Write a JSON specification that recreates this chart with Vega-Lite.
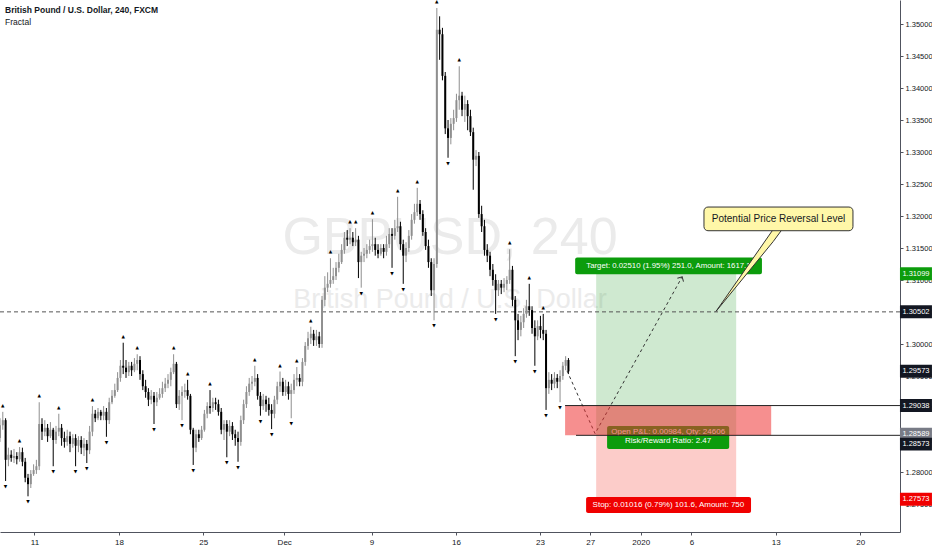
{
"$schema": "https://vega.github.io/schema/vega-lite/v6.json",
"width": 900, "height": 532,
"autosize": {"type": "none"},
"padding": {"left": 0, "top": 0, "right": 32, "bottom": 18},
"background": "#ffffff",
"config": {
 "view": {"stroke": null},
 "font": "Liberation Sans",
 "axisX": {"grid": false, "domainColor": "#50535e", "tickColor": "#50535e", "tickSize": 3, "labelFontSize": 8, "labelColor": "#131722", "labelPadding": 3, "labelFont": "Liberation Sans", "labelOverlap": false},
 "axisY": {"grid": false, "domainColor": "#50535e", "tickColor": "#50535e", "tickSize": 3, "labelFontSize": 7.5, "labelColor": "#131722", "labelPadding": 2, "labelFont": "Liberation Sans", "labelOverlap": false}
},
"datasets": {
 "candles": [
  {"i":0,"o":1.2853,"h":1.2884,"l":1.2847,"c":1.2873},
  {"i":1,"o":1.2873,"h":1.2894,"l":1.2866,"c":1.2881},
  {"i":2,"o":1.2881,"h":1.2884,"l":1.2786,"c":1.2819},
  {"i":3,"o":1.2819,"h":1.2838,"l":1.2809,"c":1.2827},
  {"i":4,"o":1.2827,"h":1.2834,"l":1.2816,"c":1.2822},
  {"i":5,"o":1.2822,"h":1.2836,"l":1.2814,"c":1.2825},
  {"i":6,"o":1.2825,"h":1.2831,"l":1.2812,"c":1.2820},
  {"i":7,"o":1.2820,"h":1.2839,"l":1.2816,"c":1.2831},
  {"i":8,"o":1.2831,"h":1.2838,"l":1.2809,"c":1.2816},
  {"i":9,"o":1.2816,"h":1.2822,"l":1.2784,"c":1.2791},
  {"i":10,"o":1.2791,"h":1.2797,"l":1.2762,"c":1.2781},
  {"i":11,"o":1.2781,"h":1.2803,"l":1.2775,"c":1.2797},
  {"i":12,"o":1.2797,"h":1.2812,"l":1.2794,"c":1.2803},
  {"i":13,"o":1.2803,"h":1.2819,"l":1.2797,"c":1.2809},
  {"i":14,"o":1.2809,"h":1.2909,"l":1.2803,"c":1.2875},
  {"i":15,"o":1.2875,"h":1.2884,"l":1.2850,"c":1.2863},
  {"i":16,"o":1.2863,"h":1.2881,"l":1.2856,"c":1.2869},
  {"i":17,"o":1.2869,"h":1.2875,"l":1.2847,"c":1.2856},
  {"i":18,"o":1.2856,"h":1.2878,"l":1.2853,"c":1.2866},
  {"i":19,"o":1.2866,"h":1.2869,"l":1.2809,"c":1.2850},
  {"i":20,"o":1.2850,"h":1.2872,"l":1.2844,"c":1.2863},
  {"i":21,"o":1.2863,"h":1.2891,"l":1.2856,"c":1.2869},
  {"i":22,"o":1.2869,"h":1.2875,"l":1.2841,"c":1.2853},
  {"i":23,"o":1.2853,"h":1.2863,"l":1.2838,"c":1.2847},
  {"i":24,"o":1.2847,"h":1.2866,"l":1.2841,"c":1.2856},
  {"i":25,"o":1.2856,"h":1.2863,"l":1.2831,"c":1.2844},
  {"i":26,"o":1.2844,"h":1.2859,"l":1.2838,"c":1.2853},
  {"i":27,"o":1.2853,"h":1.2859,"l":1.2809,"c":1.2841},
  {"i":28,"o":1.2841,"h":1.2856,"l":1.2831,"c":1.2850},
  {"i":29,"o":1.2850,"h":1.2856,"l":1.2828,"c":1.2838},
  {"i":30,"o":1.2838,"h":1.2853,"l":1.2825,"c":1.2844},
  {"i":31,"o":1.2844,"h":1.2850,"l":1.2814,"c":1.2834},
  {"i":32,"o":1.2834,"h":1.2872,"l":1.2828,"c":1.2863},
  {"i":33,"o":1.2863,"h":1.2903,"l":1.2856,"c":1.2891},
  {"i":34,"o":1.2891,"h":1.2897,"l":1.2878,"c":1.2884},
  {"i":35,"o":1.2884,"h":1.2900,"l":1.2881,"c":1.2894},
  {"i":36,"o":1.2894,"h":1.2897,"l":1.2881,"c":1.2888},
  {"i":37,"o":1.2888,"h":1.2903,"l":1.2881,"c":1.2894},
  {"i":38,"o":1.2894,"h":1.2900,"l":1.2855,"c":1.2881},
  {"i":39,"o":1.2881,"h":1.2916,"l":1.2875,"c":1.2909},
  {"i":40,"o":1.2909,"h":1.2928,"l":1.2906,"c":1.2919},
  {"i":41,"o":1.2919,"h":1.2938,"l":1.2916,"c":1.2928},
  {"i":42,"o":1.2928,"h":1.2956,"l":1.2925,"c":1.2947},
  {"i":43,"o":1.2947,"h":1.2975,"l":1.2941,"c":1.2966},
  {"i":44,"o":1.2966,"h":1.3002,"l":1.2953,"c":1.2963},
  {"i":45,"o":1.2963,"h":1.2975,"l":1.2947,"c":1.2956},
  {"i":46,"o":1.2956,"h":1.2972,"l":1.2950,"c":1.2966},
  {"i":47,"o":1.2966,"h":1.2972,"l":1.2950,"c":1.2959},
  {"i":48,"o":1.2959,"h":1.2978,"l":1.2956,"c":1.2969},
  {"i":49,"o":1.2969,"h":1.2984,"l":1.2959,"c":1.2975},
  {"i":50,"o":1.2975,"h":1.2981,"l":1.2944,"c":1.2953},
  {"i":51,"o":1.2953,"h":1.2959,"l":1.2928,"c":1.2934},
  {"i":52,"o":1.2934,"h":1.2944,"l":1.2916,"c":1.2925},
  {"i":53,"o":1.2925,"h":1.2931,"l":1.2903,"c":1.2913},
  {"i":54,"o":1.2913,"h":1.2928,"l":1.2906,"c":1.2919},
  {"i":55,"o":1.2919,"h":1.2925,"l":1.2875,"c":1.2909},
  {"i":56,"o":1.2909,"h":1.2925,"l":1.2903,"c":1.2916},
  {"i":57,"o":1.2916,"h":1.2931,"l":1.2913,"c":1.2922},
  {"i":58,"o":1.2922,"h":1.2941,"l":1.2916,"c":1.2931},
  {"i":59,"o":1.2931,"h":1.2947,"l":1.2925,"c":1.2938},
  {"i":60,"o":1.2938,"h":1.2953,"l":1.2931,"c":1.2944},
  {"i":61,"o":1.2944,"h":1.2963,"l":1.2934,"c":1.2956},
  {"i":62,"o":1.2956,"h":1.2984,"l":1.2953,"c":1.2969},
  {"i":63,"o":1.2969,"h":1.2972,"l":1.2900,"c":1.2906},
  {"i":64,"o":1.2906,"h":1.2928,"l":1.2897,"c":1.2919},
  {"i":65,"o":1.2919,"h":1.2934,"l":1.2881,"c":1.2925},
  {"i":66,"o":1.2925,"h":1.2938,"l":1.2916,"c":1.2928},
  {"i":67,"o":1.2928,"h":1.2944,"l":1.2913,"c":1.2919},
  {"i":68,"o":1.2919,"h":1.2922,"l":1.2859,"c":1.2866},
  {"i":69,"o":1.2866,"h":1.2869,"l":1.2811,"c":1.2838},
  {"i":70,"o":1.2838,"h":1.2866,"l":1.2831,"c":1.2859},
  {"i":71,"o":1.2859,"h":1.2866,"l":1.2847,"c":1.2853},
  {"i":72,"o":1.2853,"h":1.2872,"l":1.2850,"c":1.2866},
  {"i":73,"o":1.2866,"h":1.2897,"l":1.2863,"c":1.2891},
  {"i":74,"o":1.2891,"h":1.2909,"l":1.2884,"c":1.2903},
  {"i":75,"o":1.2903,"h":1.2928,"l":1.2891,"c":1.2900},
  {"i":76,"o":1.2900,"h":1.2916,"l":1.2894,"c":1.2909},
  {"i":77,"o":1.2909,"h":1.2916,"l":1.2897,"c":1.2906},
  {"i":78,"o":1.2906,"h":1.2913,"l":1.2888,"c":1.2894},
  {"i":79,"o":1.2894,"h":1.2900,"l":1.2859,"c":1.2866},
  {"i":80,"o":1.2866,"h":1.2881,"l":1.2850,"c":1.2875},
  {"i":81,"o":1.2875,"h":1.2881,"l":1.2823,"c":1.2863},
  {"i":82,"o":1.2863,"h":1.2881,"l":1.2856,"c":1.2872},
  {"i":83,"o":1.2872,"h":1.2878,"l":1.2850,"c":1.2859},
  {"i":84,"o":1.2859,"h":1.2866,"l":1.2841,"c":1.2853},
  {"i":85,"o":1.2853,"h":1.2863,"l":1.2816,"c":1.2847},
  {"i":86,"o":1.2847,"h":1.2888,"l":1.2841,"c":1.2881},
  {"i":87,"o":1.2881,"h":1.2913,"l":1.2875,"c":1.2906},
  {"i":88,"o":1.2906,"h":1.2934,"l":1.2900,"c":1.2925},
  {"i":89,"o":1.2925,"h":1.2947,"l":1.2919,"c":1.2938},
  {"i":90,"o":1.2938,"h":1.2950,"l":1.2928,"c":1.2941},
  {"i":91,"o":1.2941,"h":1.2966,"l":1.2934,"c":1.2947},
  {"i":92,"o":1.2947,"h":1.2953,"l":1.2913,"c":1.2919},
  {"i":93,"o":1.2919,"h":1.2925,"l":1.2888,"c":1.2903},
  {"i":94,"o":1.2903,"h":1.2922,"l":1.2897,"c":1.2913},
  {"i":95,"o":1.2913,"h":1.2919,"l":1.2894,"c":1.2906},
  {"i":96,"o":1.2906,"h":1.2916,"l":1.2888,"c":1.2897},
  {"i":97,"o":1.2897,"h":1.2906,"l":1.2867,"c":1.2891},
  {"i":98,"o":1.2891,"h":1.2919,"l":1.2884,"c":1.2913},
  {"i":99,"o":1.2913,"h":1.2941,"l":1.2906,"c":1.2934},
  {"i":100,"o":1.2934,"h":1.2957,"l":1.2925,"c":1.2941},
  {"i":101,"o":1.2941,"h":1.2947,"l":1.2919,"c":1.2925},
  {"i":102,"o":1.2925,"h":1.2944,"l":1.2919,"c":1.2934},
  {"i":103,"o":1.2934,"h":1.2941,"l":1.2913,"c":1.2922},
  {"i":104,"o":1.2922,"h":1.2938,"l":1.2884,"c":1.2928},
  {"i":105,"o":1.2928,"h":1.2953,"l":1.2922,"c":1.2944},
  {"i":106,"o":1.2944,"h":1.2964,"l":1.2934,"c":1.2947},
  {"i":107,"o":1.2947,"h":1.2953,"l":1.2934,"c":1.2941},
  {"i":108,"o":1.2941,"h":1.2978,"l":1.2934,"c":1.2972},
  {"i":109,"o":1.2972,"h":1.3003,"l":1.2966,"c":1.2997},
  {"i":110,"o":1.2997,"h":1.3019,"l":1.2991,"c":1.3009},
  {"i":111,"o":1.3009,"h":1.3027,"l":1.3000,"c":1.3016},
  {"i":112,"o":1.3016,"h":1.3022,"l":1.2997,"c":1.3006},
  {"i":113,"o":1.3006,"h":1.3022,"l":1.2997,"c":1.3012},
  {"i":114,"o":1.3012,"h":1.3019,"l":1.2994,"c":1.3000},
  {"i":115,"o":1.3000,"h":1.3075,"l":1.2994,"c":1.3069},
  {"i":116,"o":1.3069,"h":1.3106,"l":1.3059,"c":1.3088},
  {"i":117,"o":1.3088,"h":1.3112,"l":1.3081,"c":1.3094},
  {"i":118,"o":1.3094,"h":1.3134,"l":1.3088,"c":1.3100},
  {"i":119,"o":1.3100,"h":1.3119,"l":1.3094,"c":1.3106},
  {"i":120,"o":1.3106,"h":1.3128,"l":1.3100,"c":1.3119},
  {"i":121,"o":1.3119,"h":1.3141,"l":1.3112,"c":1.3128},
  {"i":122,"o":1.3128,"h":1.3156,"l":1.3125,"c":1.3147},
  {"i":123,"o":1.3147,"h":1.3175,"l":1.3141,"c":1.3166},
  {"i":124,"o":1.3166,"h":1.3178,"l":1.3153,"c":1.3163},
  {"i":125,"o":1.3163,"h":1.3181,"l":1.3156,"c":1.3166},
  {"i":126,"o":1.3166,"h":1.3175,"l":1.3153,"c":1.3159},
  {"i":127,"o":1.3159,"h":1.3181,"l":1.3153,"c":1.3163},
  {"i":128,"o":1.3163,"h":1.3169,"l":1.3103,"c":1.3128},
  {"i":129,"o":1.3128,"h":1.3144,"l":1.3088,"c":1.3138},
  {"i":130,"o":1.3138,"h":1.3150,"l":1.3128,"c":1.3141},
  {"i":131,"o":1.3141,"h":1.3156,"l":1.3134,"c":1.3147},
  {"i":132,"o":1.3147,"h":1.3163,"l":1.3141,"c":1.3153},
  {"i":133,"o":1.3153,"h":1.3195,"l":1.3144,"c":1.3156},
  {"i":134,"o":1.3156,"h":1.3166,"l":1.3138,"c":1.3147},
  {"i":135,"o":1.3147,"h":1.3156,"l":1.3134,"c":1.3141},
  {"i":136,"o":1.3141,"h":1.3156,"l":1.3138,"c":1.3150},
  {"i":137,"o":1.3150,"h":1.3156,"l":1.3134,"c":1.3144},
  {"i":138,"o":1.3144,"h":1.3169,"l":1.3138,"c":1.3156},
  {"i":139,"o":1.3156,"h":1.3181,"l":1.3150,"c":1.3172},
  {"i":140,"o":1.3172,"h":1.3181,"l":1.3119,"c":1.3169},
  {"i":141,"o":1.3169,"h":1.3194,"l":1.3163,"c":1.3181},
  {"i":142,"o":1.3181,"h":1.3230,"l":1.3175,"c":1.3184},
  {"i":143,"o":1.3184,"h":1.3191,"l":1.3147,"c":1.3156},
  {"i":144,"o":1.3156,"h":1.3163,"l":1.3094,"c":1.3138},
  {"i":145,"o":1.3138,"h":1.3159,"l":1.3128,"c":1.3150},
  {"i":146,"o":1.3150,"h":1.3178,"l":1.3144,"c":1.3169},
  {"i":147,"o":1.3169,"h":1.3203,"l":1.3163,"c":1.3194},
  {"i":148,"o":1.3194,"h":1.3219,"l":1.3188,"c":1.3206},
  {"i":149,"o":1.3206,"h":1.3244,"l":1.3200,"c":1.3219},
  {"i":150,"o":1.3219,"h":1.3225,"l":1.3194,"c":1.3203},
  {"i":151,"o":1.3203,"h":1.3209,"l":1.3169,"c":1.3175},
  {"i":152,"o":1.3175,"h":1.3181,"l":1.3147,"c":1.3153},
  {"i":153,"o":1.3153,"h":1.3163,"l":1.3119,"c":1.3128},
  {"i":154,"o":1.3128,"h":1.3134,"l":1.3075,"c":1.3084},
  {"i":155,"o":1.3084,"h":1.3134,"l":1.3037,"c":1.3125},
  {"i":156,"o":1.3125,"h":1.3525,"l":1.3119,"c":1.3491},
  {"i":157,"o":1.3491,"h":1.3512,"l":1.3444,"c":1.3484},
  {"i":158,"o":1.3484,"h":1.3494,"l":1.3412,"c":1.3419},
  {"i":159,"o":1.3419,"h":1.3425,"l":1.3328,"c":1.3337},
  {"i":160,"o":1.3337,"h":1.3350,"l":1.3291,"c":1.3322},
  {"i":161,"o":1.3322,"h":1.3353,"l":1.3312,"c":1.3344},
  {"i":162,"o":1.3344,"h":1.3366,"l":1.3334,"c":1.3353},
  {"i":163,"o":1.3353,"h":1.3391,"l":1.3347,"c":1.3381},
  {"i":164,"o":1.3381,"h":1.3434,"l":1.3366,"c":1.3388},
  {"i":165,"o":1.3388,"h":1.3394,"l":1.3356,"c":1.3366},
  {"i":166,"o":1.3366,"h":1.3388,"l":1.3347,"c":1.3375},
  {"i":167,"o":1.3375,"h":1.3381,"l":1.3334,"c":1.3356},
  {"i":168,"o":1.3356,"h":1.3366,"l":1.3325,"c":1.3331},
  {"i":169,"o":1.3331,"h":1.3338,"l":1.3241,"c":1.3288},
  {"i":170,"o":1.3288,"h":1.3303,"l":1.3278,"c":1.3294},
  {"i":171,"o":1.3294,"h":1.3300,"l":1.3197,"c":1.3203},
  {"i":172,"o":1.3203,"h":1.3216,"l":1.3175,"c":1.3184},
  {"i":173,"o":1.3184,"h":1.3194,"l":1.3138,"c":1.3147},
  {"i":174,"o":1.3147,"h":1.3156,"l":1.3128,"c":1.3138},
  {"i":175,"o":1.3138,"h":1.3144,"l":1.3106,"c":1.3116},
  {"i":176,"o":1.3116,"h":1.3125,"l":1.3091,"c":1.3100},
  {"i":177,"o":1.3100,"h":1.3109,"l":1.3047,"c":1.3084},
  {"i":178,"o":1.3084,"h":1.3100,"l":1.3075,"c":1.3094},
  {"i":179,"o":1.3094,"h":1.3100,"l":1.3078,"c":1.3088},
  {"i":180,"o":1.3088,"h":1.3103,"l":1.3081,"c":1.3094},
  {"i":181,"o":1.3094,"h":1.3106,"l":1.3084,"c":1.3100},
  {"i":182,"o":1.3100,"h":1.3148,"l":1.3094,"c":1.3116},
  {"i":183,"o":1.3116,"h":1.3122,"l":1.3059,"c":1.3069},
  {"i":184,"o":1.3069,"h":1.3075,"l":1.2981,"c":1.3037},
  {"i":185,"o":1.3037,"h":1.3047,"l":1.3006,"c":1.3022},
  {"i":186,"o":1.3022,"h":1.3044,"l":1.3012,"c":1.3034},
  {"i":187,"o":1.3034,"h":1.3056,"l":1.3025,"c":1.3047},
  {"i":188,"o":1.3047,"h":1.3069,"l":1.3041,"c":1.3059},
  {"i":189,"o":1.3059,"h":1.3094,"l":1.3044,"c":1.3053},
  {"i":190,"o":1.3053,"h":1.3059,"l":1.3016,"c":1.3025},
  {"i":191,"o":1.3025,"h":1.3037,"l":1.2966,"c":1.3012},
  {"i":192,"o":1.3012,"h":1.3037,"l":1.3006,"c":1.3028},
  {"i":193,"o":1.3028,"h":1.3044,"l":1.3009,"c":1.3022},
  {"i":194,"o":1.3022,"h":1.3047,"l":1.3006,"c":1.3016},
  {"i":195,"o":1.3016,"h":1.3022,"l":1.2897,"c":1.2931},
  {"i":196,"o":1.2931,"h":1.2956,"l":1.2922,"c":1.2944},
  {"i":197,"o":1.2944,"h":1.2953,"l":1.2928,"c":1.2938},
  {"i":198,"o":1.2938,"h":1.2956,"l":1.2931,"c":1.2947},
  {"i":199,"o":1.2947,"h":1.2953,"l":1.2931,"c":1.2941},
  {"i":200,"o":1.2941,"h":1.2959,"l":1.2909,"c":1.2950},
  {"i":201,"o":1.2950,"h":1.2972,"l":1.2944,"c":1.2966},
  {"i":202,"o":1.2966,"h":1.2981,"l":1.2959,"c":1.2975},
  {"i":203,"o":1.2975,"h":1.2978,"l":1.2953,"c":1.29573}
 ],
 "fractals": [
  {"i":1,"t":"up","p":1.2894},{"i":7,"t":"up","p":1.2839},{"i":14,"t":"up","p":1.2909},{"i":21,"t":"up","p":1.2891},
  {"i":33,"t":"up","p":1.2903},{"i":44,"t":"up","p":1.3002},{"i":49,"t":"up","p":1.2984},{"i":62,"t":"up","p":1.2984},
  {"i":67,"t":"up","p":1.2944},{"i":75,"t":"up","p":1.2928},{"i":91,"t":"up","p":1.2966},{"i":100,"t":"up","p":1.2957},
  {"i":106,"t":"up","p":1.2964},{"i":111,"t":"up","p":1.3027},{"i":118,"t":"up","p":1.3134},{"i":125,"t":"up","p":1.3181},
  {"i":127,"t":"up","p":1.3181},{"i":133,"t":"up","p":1.3195},{"i":142,"t":"up","p":1.3230},{"i":149,"t":"up","p":1.3244},
  {"i":156,"t":"up","p":1.3525},{"i":164,"t":"up","p":1.3434},{"i":182,"t":"up","p":1.3148},{"i":189,"t":"up","p":1.3094},
  {"i":194,"t":"up","p":1.3047},
  {"i":2,"t":"dn","p":1.2786},{"i":10,"t":"dn","p":1.2762},{"i":19,"t":"dn","p":1.2809},{"i":27,"t":"dn","p":1.2809},
  {"i":31,"t":"dn","p":1.2814},{"i":38,"t":"dn","p":1.2855},{"i":55,"t":"dn","p":1.2875},{"i":65,"t":"dn","p":1.2881},
  {"i":69,"t":"dn","p":1.2811},{"i":81,"t":"dn","p":1.2823},{"i":85,"t":"dn","p":1.2816},{"i":93,"t":"dn","p":1.2888},
  {"i":97,"t":"dn","p":1.2867},{"i":104,"t":"dn","p":1.2884},{"i":129,"t":"dn","p":1.3088},{"i":140,"t":"dn","p":1.3119},
  {"i":144,"t":"dn","p":1.3094},{"i":155,"t":"dn","p":1.3037},{"i":160,"t":"dn","p":1.3291},{"i":177,"t":"dn","p":1.3047},
  {"i":184,"t":"dn","p":1.2981},{"i":191,"t":"dn","p":1.2966},{"i":195,"t":"dn","p":1.2897},{"i":200,"t":"dn","p":1.2909}
 ],
 "levels": [
  {"p":1.31099,"kind":"target"},{"p":1.30502,"kind":"level"},{"p":1.29573,"kind":"last"},{"p":1.29038,"kind":"level"},
  {"p":1.28589,"kind":"entry"},{"p":1.28573,"kind":"level2"},{"p":1.27573,"kind":"stop"}
 ],
 "path": [{"i":202.5,"p":1.2958},{"i":212.5,"p":1.2860},{"i":243.6,"p":1.3105}],
 "pointer": [{"i":255.7,"p":1.3051,"p2":1.3051},{"i":276.1,"p":1.3179,"p2":1.3160},{"i":279.3,"p":1.3179,"p2":1.3179}],
 "one": [{}]
},
"layer": [
 {"data": {"name": "one"},
  "mark": {"type": "text", "text": "GBPUSD, 240", "fontSize": 52, "color": "#ebebeb", "align": "center", "baseline": "middle"},
  "encoding": {
   "x": {"datum": 160.7, "type": "quantitative", "scale": {"domain": [0, 321.4], "nice": false, "zero": false, "padding": 0},
     "axis": {"title": null, "labelOverlap": false, "tickCount": 30, "values": [12.3,42.5,72.6,101.5,132.7,162.8,192.8,210.8,228.8,246.9,277.0,307.2],
       "labelExpr": "datum.value < 20 ? '11' : datum.value < 50 ? '18' : datum.value < 80 ? '25' : datum.value < 110 ? 'Dec' : datum.value < 140 ? '9' : datum.value < 170 ? '16' : datum.value < 200 ? '23' : datum.value < 220 ? '27' : datum.value < 237 ? '2020' : datum.value < 260 ? '6' : datum.value < 290 ? '13' : '20'"}},
   "y": {"datum": 1.3166, "type": "quantitative", "scale": {"domain": [1.270625, 1.35375], "nice": false, "zero": false, "padding": 0},
     "axis": {"title": null, "orient": "right", "format": ".5f", "labelOverlap": false, "tickCount": 30,
       "values": [1.275,1.28,1.285,1.29,1.295,1.3,1.305,1.31,1.315,1.32,1.325,1.33,1.335,1.34,1.345,1.35]}}
  }},
 {"data": {"name": "one"},
  "mark": {"type": "text", "text": "British Pound / U.S. Dollar", "fontSize": 27, "color": "#ebebeb", "align": "center", "baseline": "middle"},
  "encoding": {"x": {"datum": 160.7}, "y": {"datum": 1.3068}}},
 {"data": {"name": "one"},
  "mark": {"type": "rect", "color": "#4caf50", "opacity": 0.27},
  "encoding": {"x": {"datum": 212.9}, "x2": {"datum": 262.9}, "y": {"datum": 1.31099}, "y2": {"datum": 1.28589}}},
 {"data": {"name": "one"},
  "mark": {"type": "rect", "color": "#f44336", "opacity": 0.27},
  "encoding": {"x": {"datum": 212.9}, "x2": {"datum": 262.9}, "y": {"datum": 1.28589}, "y2": {"datum": 1.27573}}},
 {"data": {"name": "one"},
  "mark": {"type": "rule", "color": "#555555", "strokeDash": [4, 3], "strokeWidth": 1},
  "encoding": {"y": {"datum": 1.30502}}},
 {"data": {"name": "candles"},
  "mark": {"type": "rule", "strokeWidth": 1},
  "encoding": {
   "x": {"field": "i", "type": "quantitative", "title": null},
   "y": {"field": "l", "type": "quantitative", "title": null},
   "y2": {"field": "h"},
   "color": {"condition": {"test": "datum.c >= datum.o", "value": "#8f8f8f"}, "value": "#000000"}
  }},
 {"data": {"name": "candles"},
  "mark": {"type": "bar", "width": 2},
  "encoding": {
   "x": {"field": "i", "type": "quantitative", "title": null},
   "y": {"field": "o", "type": "quantitative", "title": null},
   "y2": {"field": "c"},
   "color": {"condition": {"test": "datum.c >= datum.o", "value": "#8f8f8f"}, "value": "#000000"}
  }},
 {"data": {"name": "fractals"},
  "transform": [{"filter": "datum.t == 'up'"}],
  "mark": {"type": "text", "text": "▲", "font": "DejaVu Sans", "fontSize": 4.5, "dy": -6, "color": "#000000", "baseline": "middle"},
  "encoding": {"x": {"field": "i", "type": "quantitative", "title": null}, "y": {"field": "p", "type": "quantitative", "title": null}}},
 {"data": {"name": "fractals"},
  "transform": [{"filter": "datum.t == 'dn'"}],
  "mark": {"type": "text", "text": "▼", "font": "DejaVu Sans", "fontSize": 4.5, "dy": 6, "color": "#000000", "baseline": "middle"},
  "encoding": {"x": {"field": "i", "type": "quantitative", "title": null}, "y": {"field": "p", "type": "quantitative", "title": null}}},
 {"data": {"name": "path"},
  "mark": {"type": "line", "color": "#333333", "strokeDash": [3, 3], "strokeWidth": 1},
  "encoding": {"x": {"field": "i", "type": "quantitative", "title": null}, "y": {"field": "p", "type": "quantitative", "title": null}}},
 {"data": {"name": "one"},
  "mark": {"type": "point", "shape": "M-1,1L0,0L1,1", "filled": false, "size": 49, "angle": 29, "color": "#333333", "strokeWidth": 1, "opacity": 1},
  "encoding": {"x": {"datum": 243.6}, "y": {"datum": 1.3105}}},
 {"data": {"name": "one"},
  "mark": {"type": "rect", "color": "#0c9c0c", "cornerRadius": 2},
  "encoding": {"x": {"datum": 216.8}, "x2": {"datum": 260.4}, "y": {"datum": 1.2872}, "y2": {"datum": 1.2836}}},
 {"data": {"name": "one"},
  "mark": {"type": "text", "text": "Open P&L: 0.00984, Qty: 24606", "fontSize": 8, "color": "#ffffff", "align": "center", "baseline": "middle"},
  "encoding": {"x": {"datum": 238.6}, "y": {"datum": 1.2863}}},
 {"data": {"name": "one"},
  "mark": {"type": "text", "text": "Risk/Reward Ratio: 2.47", "fontSize": 8, "color": "#ffffff", "align": "center", "baseline": "middle"},
  "encoding": {"x": {"datum": 238.6}, "y": {"datum": 1.2849}}},
 {"data": {"name": "one"},
  "mark": {"type": "rect", "color": "#ee3333", "opacity": 0.55},
  "encoding": {"x": {"datum": 201.8}, "x2": {"datum": 275.4}, "y": {"datum": 1.29038}, "y2": {"datum": 1.28573}}},
 {"data": {"name": "one"},
  "mark": {"type": "rule", "color": "#222222", "strokeWidth": 1},
  "encoding": {"x": {"datum": 201.8}, "x2": {"datum": 321.4}, "y": {"datum": 1.29038}}},
 {"data": {"name": "one"},
  "mark": {"type": "rule", "color": "#222222", "strokeWidth": 1},
  "encoding": {"x": {"datum": 205.7}, "x2": {"datum": 321.4}, "y": {"datum": 1.28573}}},
 {"data": {"name": "one"},
  "mark": {"type": "rect", "color": "#0c9c0c", "cornerRadius": 2},
  "encoding": {"x": {"datum": 205.4}, "x2": {"datum": 272.1}, "y": {"datum": 1.3135}, "y2": {"datum": 1.3109}}},
 {"data": {"name": "one"},
  "mark": {"type": "text", "text": "Target: 0.02510 (1.95%) 251.0, Amount: 1617.1", "fontSize": 7.8, "color": "#ffffff", "align": "center", "baseline": "middle"},
  "encoding": {"x": {"datum": 238.7}, "y": {"datum": 1.3122}}},
 {"data": {"name": "one"},
  "mark": {"type": "rect", "color": "#f00000", "cornerRadius": 2},
  "encoding": {"x": {"datum": 209.3}, "x2": {"datum": 268.2}, "y": {"datum": 1.2761}, "y2": {"datum": 1.2736}}},
 {"data": {"name": "one"},
  "mark": {"type": "text", "text": "Stop: 0.01016 (0.79%) 101.6, Amount: 750", "fontSize": 8, "color": "#ffffff", "align": "center", "baseline": "middle"},
  "encoding": {"x": {"datum": 238.7}, "y": {"datum": 1.27485}}},
 {"data": {"name": "pointer"},
  "mark": {"type": "area", "color": "#fff7a8", "stroke": "#333333", "strokeWidth": 1},
  "encoding": {"x": {"field": "i", "type": "quantitative", "title": null}, "y": {"field": "p", "type": "quantitative", "title": null}, "y2": {"field": "p2"}}},
 {"data": {"name": "one"},
  "mark": {"type": "rect", "fill": "#fff7a8", "stroke": "#333333", "strokeWidth": 1, "cornerRadius": 4},
  "encoding": {"x": {"datum": 251.4}, "x2": {"datum": 304.6}, "y": {"datum": 1.3214}, "y2": {"datum": 1.3177}}},
 {"data": {"name": "one"},
  "mark": {"type": "text", "text": "Potential Price Reversal Level", "fontSize": 10, "color": "#131722", "align": "center", "baseline": "middle"},
  "encoding": {"x": {"datum": 278.0}, "y": {"datum": 1.31955}}},
 {"data": {"name": "levels"},
  "transform": [{"filter": "datum.kind != 'level2'"}],
  "mark": {"type": "tick", "orient": "horizontal", "size": 32, "thickness": 13, "opacity": 1},
  "encoding": {
   "x": {"datum": 327.1},
   "y": {"field": "p", "type": "quantitative", "title": null},
   "color": {"field": "kind", "type": "nominal", "legend": null,
     "scale": {"domain": ["target", "level", "last", "entry", "stop", "level2"], "range": ["#0c9c0c", "#131722", "#131722", "#787b86", "#f00000", "#131722"]}}
  }},
 {"data": {"name": "levels"},
  "transform": [{"filter": "datum.kind == 'level2'"}],
  "mark": {"type": "point", "shape": "M-1,0.15H1V0.95H-1Z", "size": 1024, "filled": true, "color": "#131722", "opacity": 1},
  "encoding": {"x": {"datum": 327.1}, "y": {"field": "p", "type": "quantitative", "title": null}}},
 {"data": {"name": "levels"},
  "transform": [{"filter": "datum.kind != 'level2'"}],
  "mark": {"type": "text", "fontSize": 7.5, "color": "#ffffff", "align": "center", "baseline": "middle"},
  "encoding": {"x": {"datum": 327.1}, "y": {"field": "p", "type": "quantitative", "title": null}, "text": {"field": "p", "format": ".5f"}}},
 {"data": {"name": "levels"},
  "transform": [{"filter": "datum.kind == 'level2'"}],
  "mark": {"type": "text", "fontSize": 7.5, "color": "#ffffff", "align": "center", "baseline": "middle", "dy": 9},
  "encoding": {"x": {"datum": 327.1}, "y": {"field": "p", "type": "quantitative", "title": null}, "text": {"field": "p", "format": ".5f"}}},
 {"data": {"name": "one"},
  "mark": {"type": "text", "text": "British Pound / U.S. Dollar, 240, FXCM", "fontSize": 8.5, "fontWeight": "bold", "color": "#131722", "align": "left", "baseline": "middle"},
  "encoding": {"x": {"datum": 1.8}, "y": {"datum": 1.35219}}},
 {"data": {"name": "one"},
  "mark": {"type": "text", "text": "Fractal", "fontSize": 8.5, "color": "#131722", "align": "left", "baseline": "middle"},
  "encoding": {"x": {"datum": 1.8}, "y": {"datum": 1.35031}}}
]
}
